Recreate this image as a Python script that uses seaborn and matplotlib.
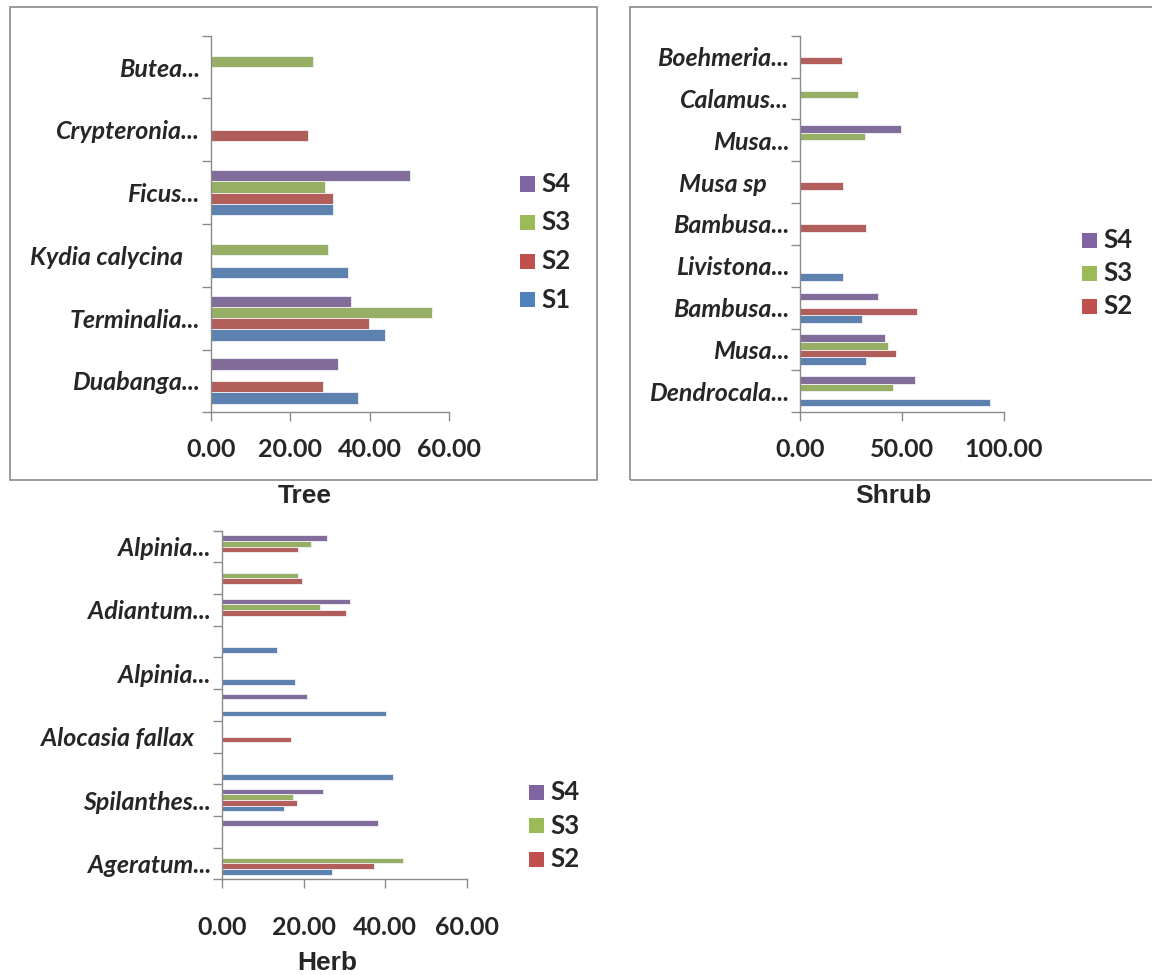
import matplotlib
matplotlib.use("Agg")
import numpy as np
import pandas as pd
import seaborn as sns
import matplotlib.pyplot as plt
from matplotlib.patches import Rectangle

# ---------------------------------------------------------------
# Data (None = no bar)
# categories listed top -> bottom as in the picture
# ---------------------------------------------------------------
series_order = ["S4", "S3", "S2", "S1"]
series_colors = {"S1": "#4F81BD", "S2": "#C0504D", "S3": "#9BBB59", "S4": "#8064A2"}

tree_species = ["Butea...", "Crypteronia...", "Ficus...", "Kydia calycina   ",
                "Terminalia...", "Duabanga..."]
tree_s1 = [None, None, 30.8, 34.6, 43.9, 36.9]
tree_s2 = [None, 24.4, 30.8, None, 39.7, 28.3]
tree_s3 = [25.7, None, 28.6, 29.5, 55.7, None]
tree_s4 = [None, None, 50.1, None, 35.3, 32.0]

shrub_species = ["Boehmeria...", "Calamus...", "Musa...", "Musa sp    ", "Bambusa...",
                 "Livistona...", "Bambusa...", "Musa...", "Dendrocala..."]
shrub_s1 = [None, None, None, None, None, 21.0, 30.5, 32.3, 93.0]
shrub_s2 = [20.3, None, None, 21.0, 32.3, None, 57.5, 46.8, None]
shrub_s3 = [None, 28.5, 31.7, None, None, None, None, 43.0, 45.7]
shrub_s4 = [None, None, 49.3, None, None, None, 38.0, 41.8, 56.2]

# Excel skipped every other label on this axis
herb_species = ["Alpinia...", "", "Adiantum...", "", "Alpinia...", "",
                "Alocasia fallax   ", "", "Spilanthes...", "", "Ageratum..."]
herb_s1 = [None, None, None, 13.4, 17.8, 40.1, None, 42.0, 15.3, None, 26.9]
herb_s2 = [18.7, 19.7, 30.3, None, None, None, 16.8, None, 18.4, None, 37.3]
herb_s3 = [21.8, 18.7, 24.0, None, None, None, None, None, 17.5, None, 44.5]
herb_s4 = [25.7, None, 31.4, None, None, 20.9, None, None, 24.7, 38.3, None]

# ---------------------------------------------------------------
# Helpers
# ---------------------------------------------------------------
W, H = 1152, 975
GRAY = "#8a8a8a"
LABEL_FONT = ["Lato", "DejaVu Sans"]
FS = 18


def long_frame(species, s1, s2, s3, s4):
    rows = []
    for name, vals in zip(["S1", "S2", "S3", "S4"], [s1, s2, s3, s4]):
        for i, v in enumerate(vals):
            if v is not None:
                rows.append({"slot": i, "series": name, "value": v})
    return pd.DataFrame(rows)


def px_axes(left, top, right, bottom):
    return fig.add_axes([left / W, 1 - bottom / H, (right - left) / W, (bottom - top) / H])


def draw_panel(ax, species, data, xmax, xstep, xpad):
    n = len(species)
    sns.barplot(data=data, x="value", y="slot", hue="series", orient="h",
                order=list(range(n)), hue_order=series_order, palette=series_colors,
                width=0.72, errorbar=None, edgecolor="#f2f2f8", linewidth=0.6,
                legend=False, ax=ax)
    ax.set_xlim(0, xmax)
    ax.set_ylim(n - 0.5, -0.5)
    ax.set_xlabel("")
    ax.set_ylabel("")
    ax.set_xticks(np.arange(0, xmax + 0.1, xstep))
    ax.set_xticklabels([f"{v:.2f}" for v in np.arange(0, xmax + 0.1, xstep)],
                       fontsize=FS, fontweight="bold", family=LABEL_FONT)
    ax.set_yticks(range(n))
    ax.set_yticklabels(species, fontsize=FS, fontweight="bold", fontstyle="italic",
                       family=LABEL_FONT)
    ax.set_yticks(np.arange(-0.5, n, 1), minor=True)
    ax.tick_params(axis="y", which="major", left=True, length=0, pad=8)
    ax.tick_params(axis="y", which="minor", left=True, length=6.5, width=1,
                   color=GRAY, direction="out")
    ax.tick_params(axis="x", which="major", bottom=True, length=6.5, width=1, color=GRAY,
                   direction="out", pad=xpad)
    for side in ["top", "right"]:
        ax.spines[side].set_visible(False)
    for side in ["left", "bottom"]:
        ax.spines[side].set_color(GRAY)
        ax.spines[side].set_linewidth(1.0)
    ax.set_facecolor("none")


def draw_legend(names, x, y_centers):
    for name, yc in zip(names, y_centers):
        fig.add_artist(Rectangle((x / W, 1 - (yc + 7.5) / H), 15 / W, 15 / H,
                                 transform=fig.transFigure,
                                 facecolor=series_colors[name], edgecolor="none"))
        fig.text((x + 21) / W, 1 - yc / H, name, fontsize=18.5, fontweight="bold",
                 family=LABEL_FONT, ha="left", va="center")


# ---------------------------------------------------------------
# Figure
# ---------------------------------------------------------------
sns.set_theme(style="white")
plt.rcParams["font.family"] = ["Lato", "DejaVu Sans"]

fig = plt.figure(figsize=(W / 100, H / 100), dpi=100)
fig.patch.set_facecolor("white")

# panel frames (Excel chart areas)
fig.add_artist(Rectangle((10 / W, 1 - 480 / H), 587 / W, 473 / H, transform=fig.transFigure,
                         facecolor="none", edgecolor=GRAY, linewidth=1.2))
fig.add_artist(Rectangle((630 / W, 1 - 480 / H), 540 / W, 473 / H, transform=fig.transFigure,
                         facecolor="none", edgecolor=GRAY, linewidth=1.2))

# Tree
ax_tree = px_axes(211, 35.7, 449.3, 412.3)
draw_panel(ax_tree, tree_species, long_frame(tree_species, tree_s1, tree_s2, tree_s3, tree_s4),
           60, 20, 12)
draw_legend(["S4", "S3", "S2", "S1"], 520, [184, 222.5, 261, 299.5])
fig.text(305 / W, 1 - 496 / H, "Tree", fontsize=19, fontweight="bold",
         family="Liberation Sans", ha="center", va="center")

# Shrub
ax_shrub = px_axes(800.3, 35.7, 1004, 412.3)
draw_panel(ax_shrub, shrub_species, long_frame(shrub_species, shrub_s1, shrub_s2, shrub_s3, shrub_s4),
           100, 50, 12)
draw_legend(["S4", "S3", "S2"], 1082, [240, 273, 306])
fig.text(893 / W, 1 - 496 / H, "Shrub", fontsize=19, fontweight="bold",
         family="Liberation Sans", ha="center", va="center")

# Herb
ax_herb = px_axes(222, 530.7, 466.7, 879.3)
draw_panel(ax_herb, herb_species, long_frame(herb_species, herb_s1, herb_s2, herb_s3, herb_s4),
           60, 20, 20)
draw_legend(["S4", "S3", "S2"], 529, [792, 825.7, 859])
fig.text(327 / W, 1 - 963 / H, "Herb", fontsize=19, fontweight="bold",
         family="Liberation Sans", ha="center", va="center")

fig.savefig("out.png", dpi=100, facecolor="white")
